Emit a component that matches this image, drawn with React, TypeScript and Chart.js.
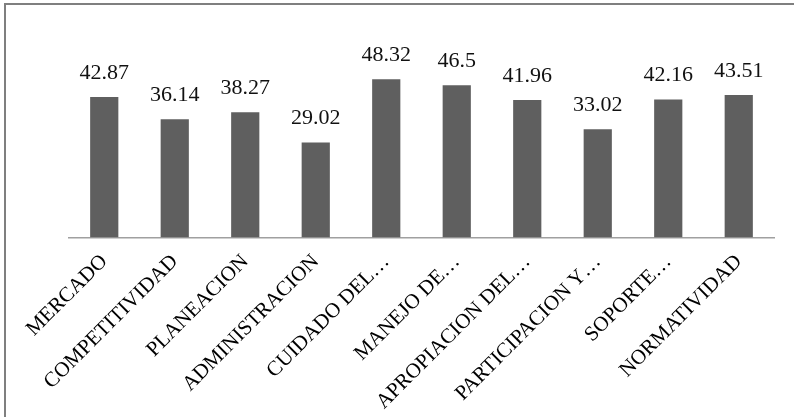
import React, { useEffect, useRef } from "react";
import { Chart, registerables } from "chart.js";

Chart.register(...registerables);

const categories = [
  "MERCADO",
  "COMPETITIVIDAD",
  "PLANEACION",
  "ADMINISTRACION",
  "CUIDADO DEL…",
  "MANEJO DE…",
  "APROPIACION DEL…",
  "PARTICIPACION Y…",
  "SOPORTE…",
  "NORMATIVIDAD",
];
const values = [42.87, 36.14, 38.27, 29.02, 48.32, 46.5, 41.96, 33.02, 42.16, 43.51];
const yMin = 0;
const yMax = 60;

const FONT = "'Liberation Serif', 'DejaVu Serif', serif";

const valueLabels = {
  id: "valueLabels",
  afterDatasetsDraw(chart: any) {
    const ctx = chart.ctx;
    const meta = chart.getDatasetMeta(0);
    ctx.save();
    ctx.font = `22px ${FONT}`;
    ctx.fillStyle = "#111";
    ctx.textAlign = "center";
    ctx.textBaseline = "alphabetic";
    meta.data.forEach((bar: any, i: number) => {
      ctx.fillText(String(values[i]), bar.x, bar.y - 18);
    });
    ctx.restore();
  },
};

export default function App() {
  const ref = useRef<HTMLCanvasElement>(null);
  useEffect(() => {
    document.body.style.margin = "0";
    document.body.style.overflow = "hidden";
    const chart = new Chart(ref.current!, {
      type: "bar",
      data: {
        labels: categories,
        datasets: [
          {
            data: values,
            backgroundColor: "#5f5f5f",
            borderWidth: 0,
            barPercentage: 0.4,
            categoryPercentage: 1,
          },
        ],
      },
      options: {
        animation: false,
        responsive: true,
        maintainAspectRatio: false,
        layout: { padding: { left: 69, right: 20, top: 41, bottom: 0 } },
        plugins: { legend: { display: false }, tooltip: { enabled: false } },
        scales: {
          x: {
            grid: { display: false, drawTicks: false },
            border: { display: true, color: "#a0a0a0", width: 1.5 },
            ticks: {
              autoSkip: false,
              minRotation: 45,
              maxRotation: 45,
              padding: 12,
              color: "#000",
              font: { family: FONT, size: 21 },
            },
            afterFit(scale: any) {
              scale.height = 179.5;
            },
          },
          y: {
            display: false,
            min: yMin,
            max: yMax,
          },
        },
      },
      plugins: [valueLabels],
    });
    return () => chart.destroy();
  }, []);
  return (
    <div style={{ position: "relative", width: 794, height: 417, overflow: "hidden", background: "#fff" }}>
      <div
        style={{
          position: "absolute",
          left: 4,
          top: 3,
          width: 900,
          height: 600,
          borderLeft: "2px solid #7f7f7f",
          borderTop: "2px solid #7f7f7f",
          boxSizing: "border-box",
        }}
      />
      <div style={{ position: "absolute", left: 0, top: 0, width: 794, height: 417 }}>
        <canvas ref={ref} />
      </div>
    </div>
  );
}
